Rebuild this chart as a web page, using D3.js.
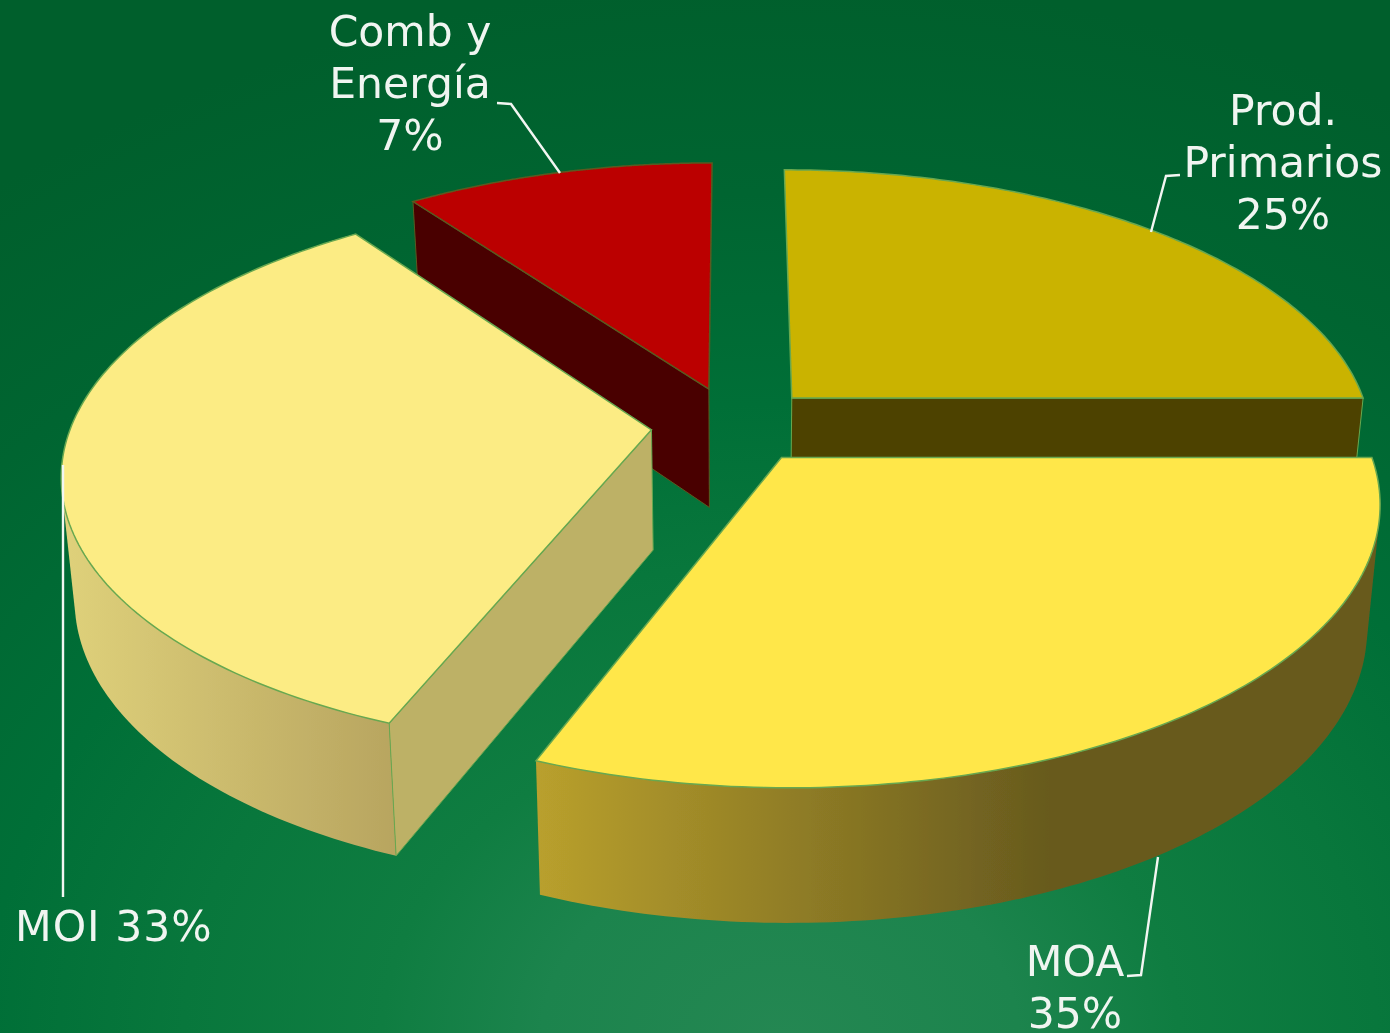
<!DOCTYPE html>
<html><head><meta charset="utf-8">
<script src="https://cdn.jsdelivr.net/npm/d3@7"></script>
<style>html,body{margin:0;padding:0;background:#00602d}svg{display:block}</style>
</head><body><div id="chart"></div>
<script>
// Data
const categories = ["Prod. Primarios", "MOA", "MOI", "Comb y Energía"];
const printedPercent = [25, 35, 33, 7];
// Share of the circle each slice occupies as drawn in the picture
const drawnShare = [25, 31, 34, 10];
const labelLines = [["Prod.", "Primarios", "25%"], ["MOA", "35%"], ["MOI 33%"], ["Comb y", "Energía", "7%"]];

// Layout & style
const W = 1390, H = 1033;
const C = {cx: 734, cy: 425, A: 580, B: 270, k: 0.15, explode: 0.143, depth: 120, k2: 0.1, shrink: 0.98};
const styles = [
  {top: "#cab300", cut: "#4e4300", wall: "#4e4300"},
  {top: "#ffe748", cut: "#675a1e", wall: "url(#wallMOA)"},
  {top: "#fcec84", cut: "#bdb166", wall: "url(#wallMOI)"},
  {top: "#bb0000", cut: "#480000", wall: "#480000"}
];
const labelPos = [
  {x: 1283, y: 125, anchor: "middle", tracking: 0},
  {x: 1075, y: 976, anchor: "middle", tracking: 0},
  {x: 15,   y: 941, anchor: "start",  tracking: 1},
  {x: 410,  y: 46,  anchor: "middle", tracking: 0}
];
const leaders = [
  [[1180,175],[1166,176],[1151,232]],
  [[1158,857],[1141,975],[1127,976]],
  [[63,465],[63,897]],
  [[497,103],[511,104],[560,173]]
];
const drawOrder = [3, 0, 2, 1];

const svg = d3.select("#chart").append("svg").attr("width", W).attr("height", H);
const defs = svg.append("defs");
const bg = defs.append("radialGradient").attr("id", "bg").attr("gradientUnits", "userSpaceOnUse")
  .attr("cx", 0).attr("cy", 0).attr("r", 1060)
  .attr("gradientTransform", "translate(780,1040) scale(1.25,1)");
[[0,"#248752"],[0.18,"#1c844d"],[0.3,"#0f7d41"],[0.45,"#08773c"],[0.6,"#006f37"],[0.8,"#006531"],[1,"#005f2c"]]
  .forEach(([o,c]) => bg.append("stop").attr("offset", o).attr("stop-color", c));
function grad(id, x1, x2, stops){
  const g = defs.append("linearGradient").attr("id", id).attr("gradientUnits", "userSpaceOnUse")
    .attr("x1", x1).attr("x2", x2).attr("y1", 0).attr("y2", 0);
  stops.forEach(([o,c]) => g.append("stop").attr("offset", o).attr("stop-color", c));
}
grad("wallMOA", 537, 1050, [[0,"#b9a02d"],[1,"#675a1e"]]);
grad("wallMOI", 70, 395, [[0,"#ded07a"],[1,"#b8a560"]]);
defs.append("filter").attr("id", "soft").append("feGaussianBlur").attr("stdDeviation", 0.6);

svg.append("rect").attr("width", W).attr("height", H).attr("fill", "url(#bg)");
const root = svg.append("g").attr("filter", "url(#soft)");

const pie = d3.pie().sort(null).value(d => d)(drawnShare);
const line = d3.line();

// plane (u to the right, v towards the viewer) -> screen, in perspective
function projTop(u, v){
  const w = 1 - C.k * v;
  return [C.cx + C.A * u / w, C.cy + C.B * v / w];
}
function projBottom(u, v){
  const p = projTop(u, v);
  return [C.cx + (p[0] - C.cx) * C.shrink, p[1] + C.depth / (1 - C.k2 * v)];
}

drawOrder.forEach(i => {
  const s = pie[i], st = styles[i];
  const mid = (s.startAngle + s.endAngle) / 2;
  const ox = C.explode * Math.sin(mid), oy = -C.explode * Math.cos(mid);
  const rim = a => [ox + Math.sin(a), oy - Math.cos(a)];
  const angles = d3.range(0, 121).map(t => s.startAngle + (s.endAngle - s.startAngle) * t / 120);
  const g = root.append("g");
  const stroke = i === 3 ? "#5a5a20" : "#67a850";
  const sw = 1.5;

  // outer wall: hull of both rims, which sweeps the side silhouette; the top face hides the rest
  if (i !== 3 && i !== 0) {
    const hull = d3.polygonHull(angles.map(a => projTop(...rim(a))).concat(angles.map(a => projBottom(...rim(a)))));
    g.append("path").attr("d", line(hull) + "Z").attr("fill", st.wall);
  }

  // radial cut faces that look towards the viewer
  [[s.startAngle, Math.sin(s.startAngle) < -1e-6], [s.endAngle, Math.sin(s.endAngle) > 1e-6]].forEach(([a, vis]) => {
    if (!vis) return;
    const r = rim(a);
    const pts = [projTop(ox, oy), projTop(...r), projBottom(...r), projBottom(ox, oy)];
    g.append("path").attr("d", line(pts) + "Z").attr("fill", st.cut).attr("stroke", stroke).attr("stroke-width", 1);
  });

  // top surface
  const topPts = [projTop(ox, oy)].concat(angles.map(a => projTop(...rim(a))));
  g.append("path").attr("d", line(topPts) + "Z").attr("fill", st.top).attr("stroke", stroke).attr("stroke-width", sw);
});

// leader lines
root.append("g").selectAll("path").data(leaders).join("path")
  .attr("d", d => line(d)).attr("fill", "none").attr("stroke", "#f2f6f2").attr("stroke-width", 2.4);

// labels
const lab = root.append("g").attr("font-family", "'DejaVu Sans', Verdana, sans-serif")
  .attr("font-size", 42.5).attr("fill", "#f0f5f1");
labelLines.forEach((lines, i) => {
  const p = labelPos[i];
  lab.selectAll(null).data(lines).join("text")
    .attr("x", p.x).attr("y", (d, j) => p.y + j * 52)
    .attr("letter-spacing", p.tracking)
    .attr("text-anchor", p.anchor).text(d => d);
});
</script></body></html>
